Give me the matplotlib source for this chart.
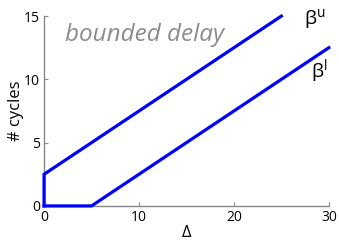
import matplotlib
matplotlib.use("Agg")
import matplotlib.pyplot as plt

upper_x = [0, 0, 25]
upper_y = [0, 2.5, 15]
lower_x = [0, 5, 30]
lower_y = [0, 0, 12.5]
xticks = [0, 10, 20, 30]
yticks = [0, 5, 10, 15]

plt.rcParams['font.family'] = ['Open Sans', 'DejaVu Sans']
fig = plt.figure(figsize=(3.39, 2.40), dpi=100)
ax = fig.add_axes([0.130, 0.142, 0.840, 0.791])
ax.plot(upper_x, upper_y, color='#0000ff', lw=2.3, solid_joinstyle='miter', clip_on=False, zorder=5)
ax.plot(lower_x, lower_y, color='#0000ff', lw=2.3, solid_joinstyle='miter', clip_on=False, zorder=5)
ax.set_xlim(0, 30)
ax.set_ylim(0, 15)
ax.set_xticks(xticks)
ax.set_yticks(yticks)
for s in ['top', 'right']:
    ax.spines[s].set_visible(False)
for s in ['left', 'bottom']:
    ax.spines[s].set_color('#888888')
    ax.spines[s].set_linewidth(1.0)
ax.tick_params(direction='in', length=3, color='#888888', labelsize=10, pad=3)
ax.set_xlabel('Δ', fontsize=12, labelpad=0)
ax.set_ylabel('# cycles', fontsize=12, labelpad=0)
ax.text(0.075, 0.90, 'bounded delay', transform=ax.transAxes, fontsize=17.5,
        style='italic', color='#8c8c8c', va='center', ha='left')
ax.text(28.5, 14.8, r'$\mathregular{\beta^u}$', fontsize=14, ha='center', va='center')
ax.text(29.0, 10.6, r'$\mathregular{\beta^l}$', fontsize=14, ha='center', va='center')
fig.savefig('out.png', dpi=100)
